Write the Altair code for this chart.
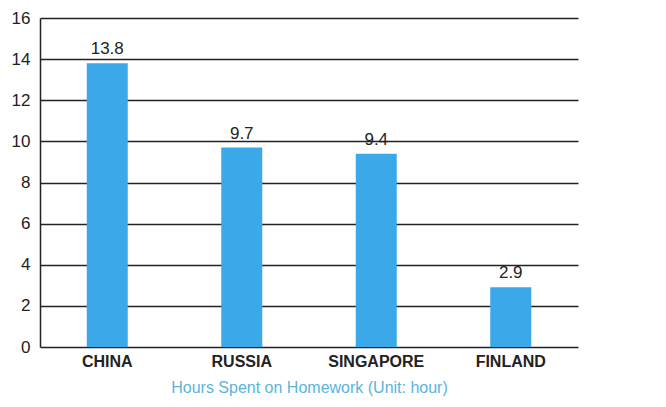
import altair as alt
import pandas as pd

countries = ["CHINA", "RUSSIA", "SINGAPORE", "FINLAND"]
hours = [13.8, 9.7, 9.4, 2.9]
labels = ["13.8", "9.7", "9.4", "2.9"]
y_ticks = [0, 2, 4, 6, 8, 10, 12, 14, 16]

df = pd.DataFrame({"country": countries, "hours": hours, "label": labels})

x = alt.X("country:N", sort=countries,
          scale=alt.Scale(paddingInner=0, paddingOuter=0),
          axis=alt.Axis(title="Hours Spent on Homework (Unit: hour)", labelAngle=0,
                        labelFont="Liberation Sans", labelFontSize=16, labelFontWeight=600,
                        labelColor="#222", domain=False, ticks=False, labelPadding=6, grid=False,
                        titleFont="Liberation Sans", titleFontSize=16, titleFontWeight="normal",
                        titleColor="#5ab4dc", titlePadding=10))
y = alt.Y("hours:Q", scale=alt.Scale(domain=[0, 16]),
          axis=alt.Axis(title=None, values=y_ticks, labelOverlap=False,
                        labelFont="Liberation Sans", labelFontSize=17, labelColor="#222",
                        ticks=False, labelPadding=10, domainColor="#222", domainWidth=1.5,
                        gridColor="#222", gridWidth=1.3, grid=True))

bars = alt.Chart(df).mark_bar(color="#3ba9e9", size=41).encode(x=x, y=y)
text = alt.Chart(df).mark_text(dy=-14, font="Liberation Sans", fontSize=17, color="#222").encode(
    x=x, y=y, text="label:N")

chart = (bars + text).properties(
    width=538, height=329,
    autosize=alt.AutoSizeParams(type="none"),
    padding={"left": 32, "top": 10, "right": 80, "bottom": 60},
).configure_view(stroke=None)

chart.save("out.html", embed_options={"renderer": "svg", "actions": False})
